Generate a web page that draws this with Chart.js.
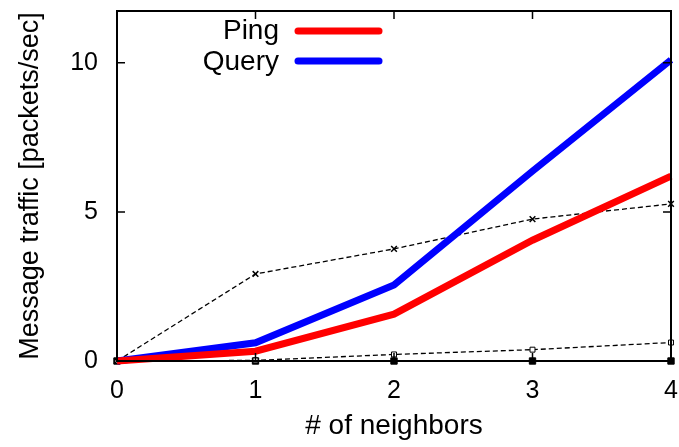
<!DOCTYPE html>
<html>
<head>
<meta charset="utf-8">
<script src="https://cdn.jsdelivr.net/npm/chart.js@4.4.1/dist/chart.umd.min.js"></script>
<style>
  html, body { margin: 0; padding: 0; background: #fff; }
  #wrap { width: 679px; height: 447px; }
</style>
</head>
<body>
<div id="wrap"><canvas id="chart" width="679" height="447"></canvas></div>
<script>
const neighbors = [0, 1, 2, 3, 4];
const pingTraffic = [0, 0.33, 1.57, 4.05, 6.2];
const queryTraffic = [0, 0.61, 2.55, 6.37, 10.1];
const crossSeries = [0, 2.92, 3.76, 4.76, 5.27];
const squareSeries = [0, 0.02, 0.22, 0.38, 0.62];
const zeroSeries = [0, 0, 0, 0, 0];
const yTicks = [0, 5, 10];
const FONT = "'Liberation Sans', Arial, sans-serif";

const toPoints = (ys) => neighbors.map((x, i) => ({ x, y: ys[i] }));

// gnuplot-like frame with inward ticks on all four sides
const framePlugin = {
  id: "frame",
  afterDatasetsDraw(chart) {
    const { ctx, chartArea: a, scales } = chart;
    ctx.save();
    ctx.strokeStyle = "#000";
    ctx.lineWidth = 2;
    ctx.strokeRect(a.left, a.top, a.right - a.left, a.bottom - a.top);
    ctx.lineWidth = 1.5;
    ctx.beginPath();
    neighbors.forEach((v) => {
      const px = scales.x.getPixelForValue(v);
      ctx.moveTo(px, a.bottom); ctx.lineTo(px, a.bottom - 8);
      ctx.moveTo(px, a.top); ctx.lineTo(px, a.top + 8);
    });
    yTicks.forEach((v) => {
      const py = scales.y.getPixelForValue(v);
      ctx.moveTo(a.left, py); ctx.lineTo(a.left + 8, py);
      ctx.moveTo(a.right, py); ctx.lineTo(a.right - 8, py);
    });
    ctx.stroke();

    // key, top left inside the plot
    ctx.font = "28px " + FONT;
    ctx.fillStyle = "#000";
    ctx.textAlign = "right";
    ctx.textBaseline = "alphabetic";
    ctx.lineCap = "round";
    [["Ping", "#ff0000", 39, 31], ["Query", "#0000ff", 70, 61]].forEach(([label, color, base, y]) => {
      ctx.fillText(label, 279, base);
      ctx.strokeStyle = color;
      ctx.lineWidth = 7;
      ctx.beginPath();
      ctx.moveTo(298, y);
      ctx.lineTo(379, y);
      ctx.stroke();
    });
    ctx.restore();
  },
};

new Chart(document.getElementById("chart"), {
  type: "line",
  data: {
    datasets: [
      {
        label: "Ping",
        data: toPoints(pingTraffic),
        borderColor: "#ff0000",
        borderWidth: 7,
        pointRadius: 0,
        order: 0,
      },
      {
        label: "Query",
        data: toPoints(queryTraffic),
        borderColor: "#0000ff",
        borderWidth: 7,
        pointRadius: 0,
        order: 1,
      },
      {
        label: "cross",
        data: toPoints(crossSeries),
        borderColor: "#000",
        borderWidth: 1.3,
        borderDash: [5, 3],
        pointStyle: "crossRot",
        pointRadius: 4,
        pointBorderColor: "#000",
        pointBorderWidth: 1.5,
        order: 2,
      },
      {
        label: "square",
        data: toPoints(squareSeries),
        borderColor: "#000",
        borderWidth: 1.3,
        borderDash: [5, 3],
        pointStyle: "rect",
        pointRadius: 3.5,
        pointBorderColor: "#000",
        pointBackgroundColor: "#fff",
        pointBorderWidth: 1,
        order: 3,
      },
      {
        label: "zero",
        data: toPoints(zeroSeries),
        borderColor: "#000",
        borderWidth: 1,
        pointStyle: "rect",
        pointRadius: 4.5,
        pointBackgroundColor: "#000",
        pointBorderColor: "#000",
        order: 4,
      },
    ],
  },
  options: {
    responsive: false,
    animation: false,
    clip: false,
    layout: { padding: { top: 11, right: 8, left: 10, bottom: 0 } },
    plugins: { legend: { display: false }, tooltip: { enabled: false } },
    scales: {
      x: {
        type: "linear",
        min: 0,
        max: 4,
        afterBuildTicks: (scale) => { scale.ticks = neighbors.map((v) => ({ value: v })); },
        afterFit: (scale) => {
          scale.height = 86;
          scale.paddingLeft = 0;
          scale.paddingRight = 0;
        },
        grid: { display: false, drawTicks: false },
        border: { display: false },
        ticks: { color: "#000", font: { family: FONT, size: 25 }, padding: 15, maxRotation: 0 },
        title: {
          display: true,
          text: "# of neighbors",
          color: "#000",
          font: { family: FONT, size: 28 },
          padding: { top: 4, bottom: 4 },
        },
      },
      y: {
        type: "linear",
        min: 0,
        max: 11.74,
        afterBuildTicks: (scale) => { scale.ticks = yTicks.map((v) => ({ value: v })); },
        afterFit: (scale) => {
          scale.width = 107;
          scale.paddingTop = 0;
          scale.paddingBottom = 0;
        },
        grid: { display: false, drawTicks: false },
        border: { display: false },
        ticks: { color: "#000", font: { family: FONT, size: 25 }, padding: 19 },
        title: {
          display: true,
          text: "Message traffic [packets/sec]",
          color: "#000",
          font: { family: FONT, size: 27 },
          padding: { top: 4, bottom: 4 },
        },
      },
    },
  },
  plugins: [framePlugin],
});
</script>
</body>
</html>
